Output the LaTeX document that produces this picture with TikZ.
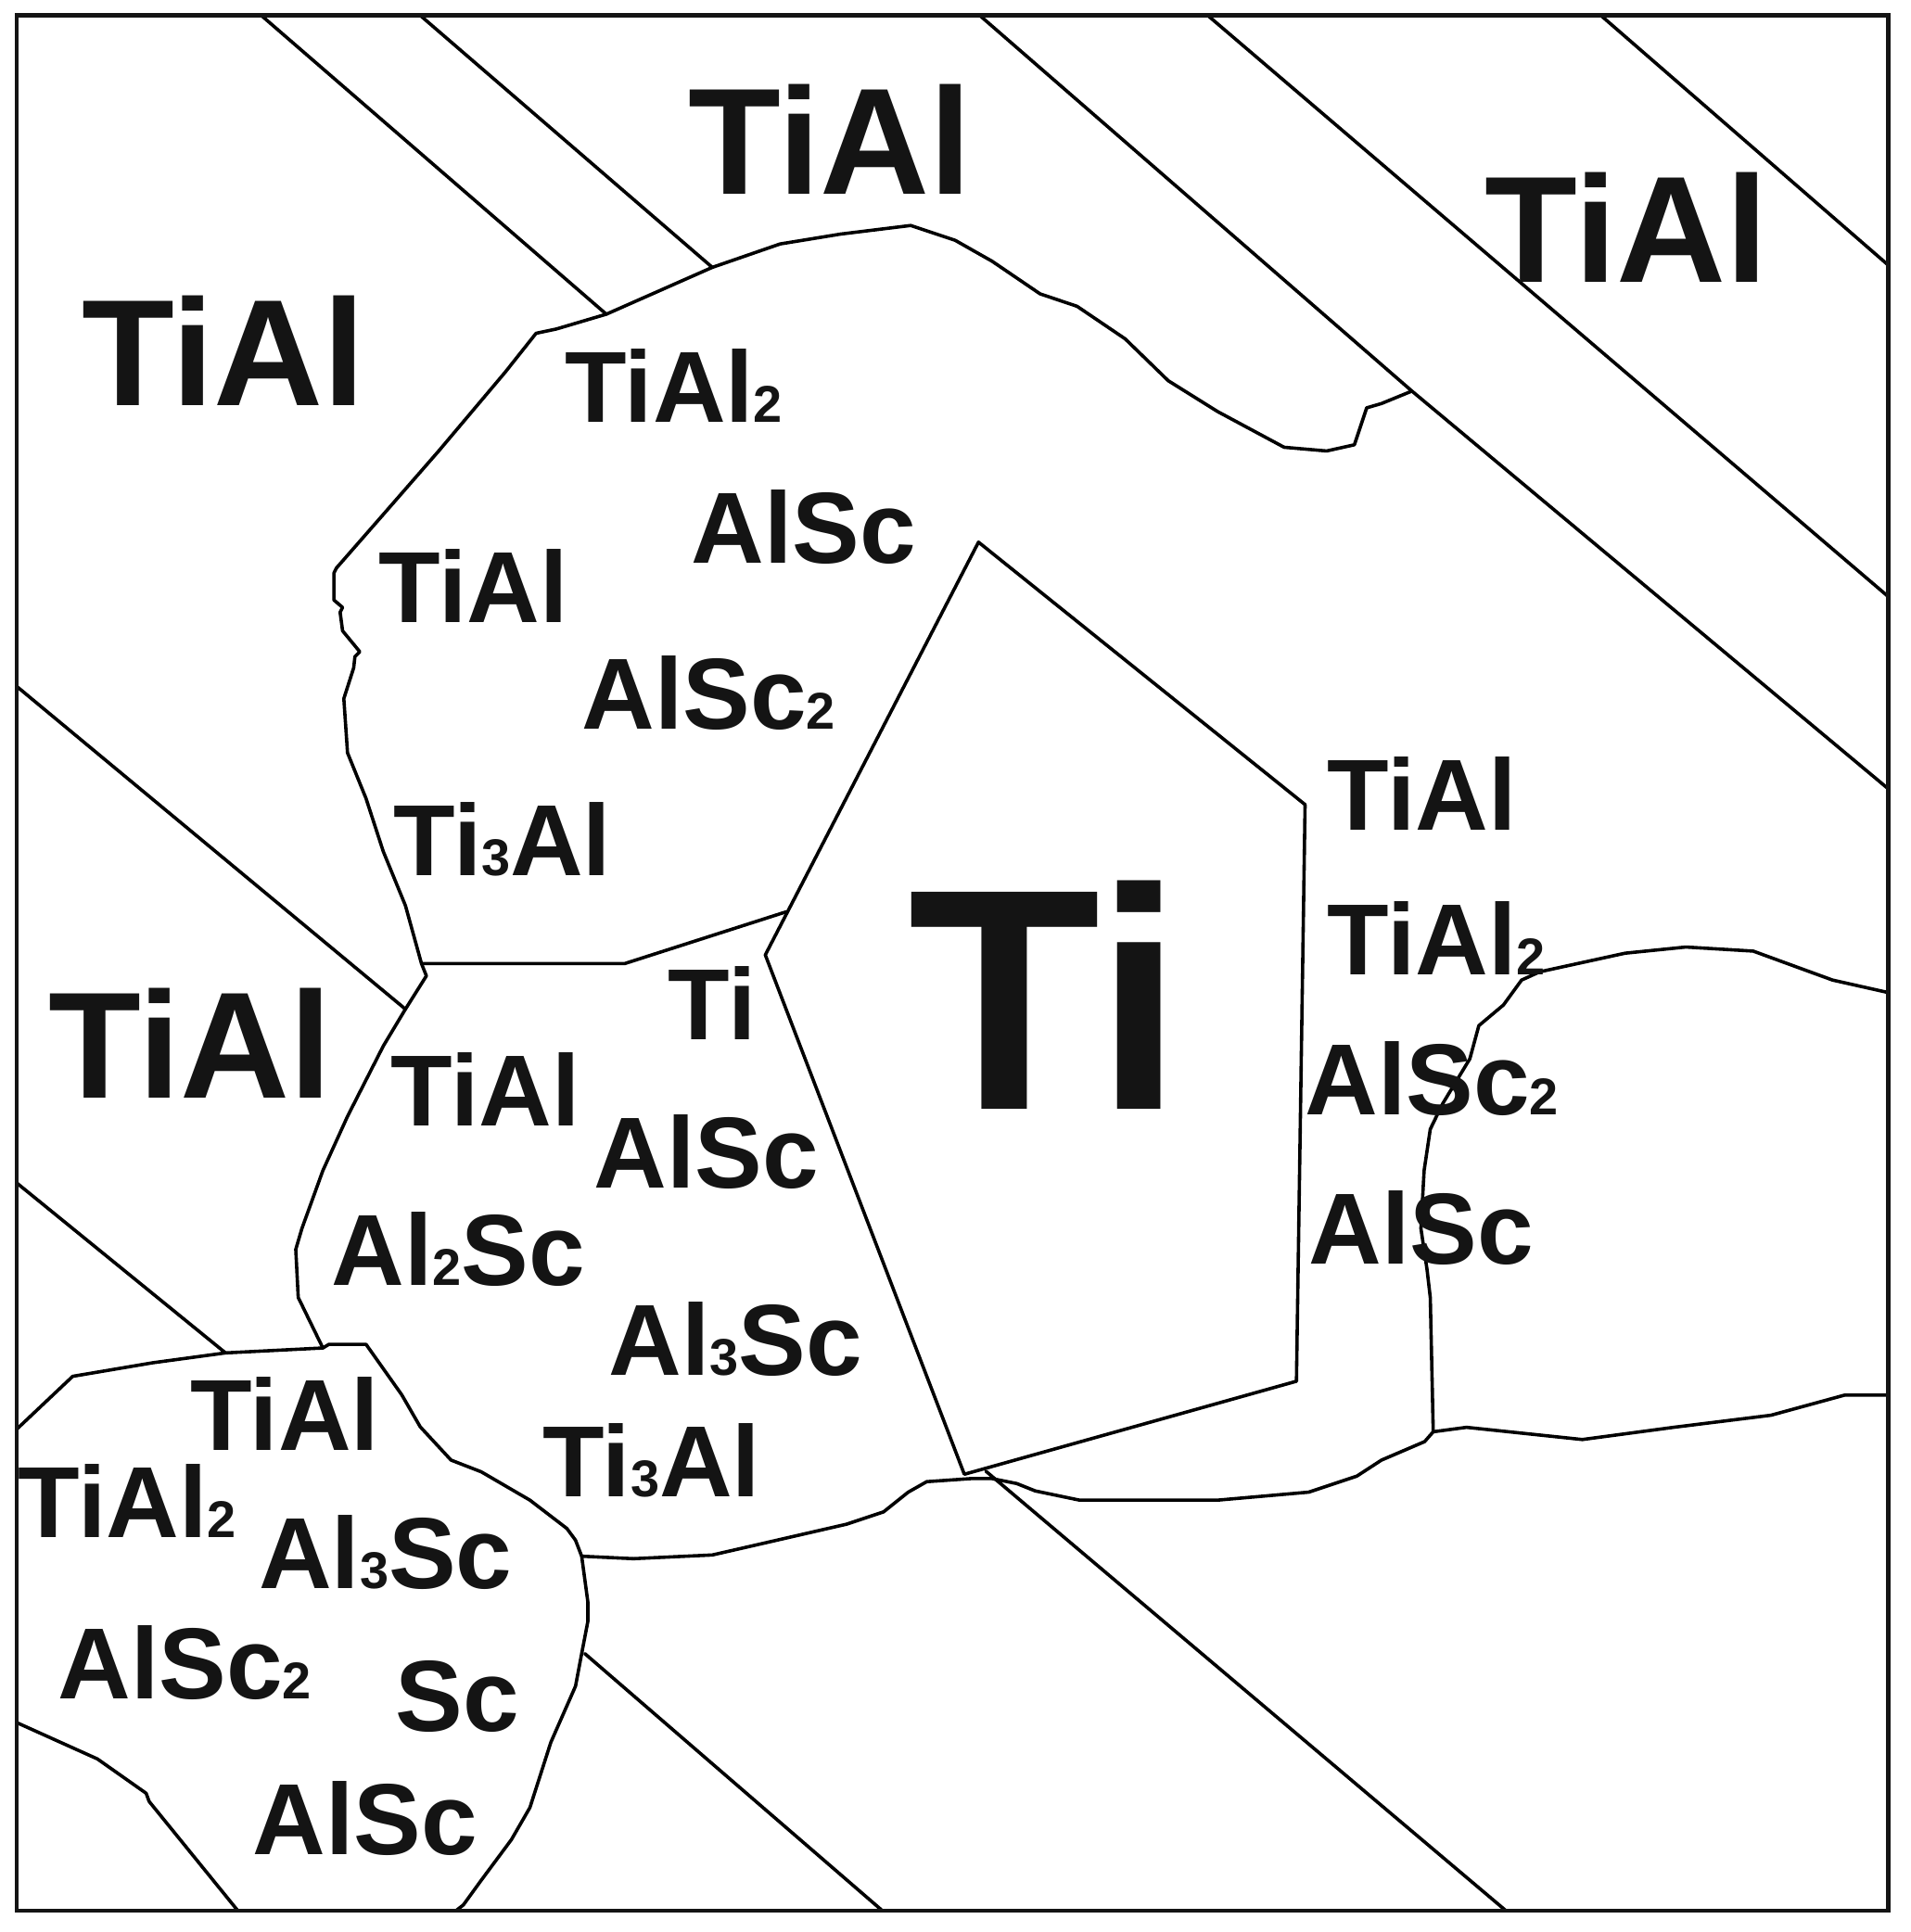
\documentclass[tikz,border=0pt]{standalone}
\usepackage{fontspec}
\setmainfont{Liberation Sans}
\newcommand\medfnt{\fontsize{82}{82}\selectfont\bfseries}
\newcommand\bigfnt{\fontsize{123}{123}\selectfont\bfseries}
\newcommand\hugefnt{\fontsize{256}{256}\selectfont\bfseries}
\newcommand\subd[1]{{\fontsize{42}{42}\selectfont #1}}
\definecolor{ink}{RGB}{20,20,20}
\tikzset{
  gb/.style={line width=2.7pt, line join=round, line cap=round, draw=black},
  frame/.style={line width=3.6pt, draw=ink},
  lab/.style={anchor=base west, inner sep=0pt, outer sep=0pt, text=ink, font=\medfnt},
  biglab/.style={lab, font=\bigfnt},
  hugelab/.style={lab, font=\hugefnt},
}
\begin{document}
\begin{tikzpicture}[x=1pt, y=-1pt]
\useasboundingbox (0,0) rectangle (1550,1568);
\fill[white] (0,0) rectangle (1550,1568);
% key junctions
\coordinate (jA) at (342,782);
\coordinate (jB) at (262,1094);
\coordinate (jC) at (472,1263);
\coordinate (jD) at (1163,1162);
\coordinate (jE) at (1145.7,317.4);
\coordinate (jF) at (638,740);
% diagonal twin boundaries
\draw[gb] (212,12.5) -- (492,255);
\draw[gb] (341,12.5) -- (578,217);
\draw[gb] (795,12.5) -- (jE) -- (1532,640);
\draw[gb] (980,12.5) -- (1532,484);
\draw[gb] (1299,12.5) -- (1532,215);
\draw[gb] (13.5,557) -- (329,819);
\draw[gb] (13.5,960) -- (183,1098);
\draw[gb] (474.5,1342) -- (716,1550.7);
\draw[gb] (800,1194) -- (1222,1550.7);
\draw[gb] (13.5,1398) -- (79,1427.5) -- (118.6,1455.4) -- (121,1462) -- (193,1550.7);
% upper grain
\draw[gb] (jF) -- (507,782) -- (jA) -- (329,735) -- (311,691) -- (297,648) -- (282,611)
  -- (279,567) -- (287,542) -- (288,533) -- (292,529) -- (278,512) -- (276,497) -- (278,493)
  -- (271,487) -- (271,465) -- (273,461) -- (308,421) -- (356,366) -- (410,302) -- (435,270.5)
  -- (451.5,267) -- (492,255) -- (578,217) -- (633,198) -- (682,190) -- (739,183) -- (775,195)
  -- (805,212) -- (844,238.5) -- (874,248.6) -- (913,275) -- (948,309) -- (988,334)
  -- (1042,363) -- (1076.5,366) -- (1099,361) -- (1109,331) -- (1121,327.5) -- (jE);
% middle grain left side
\draw[gb] (jA) -- (346,792) -- (329,819) -- (311,849) -- (282,906) -- (262,950) -- (245,997)
  -- (240,1014) -- (242,1053) -- (jB);
% bottom-left grain
\draw[gb] (13.5,1160) -- (59,1117) -- (124,1106) -- (183,1098) -- (jB) -- (267,1091) -- (297,1091)
  -- (326,1132) -- (341,1158) -- (366,1185) -- (390.5,1194.5) -- (430,1217.5) -- (460,1240.5)
  -- (467,1250) -- (jC) -- (477,1300) -- (477,1316) -- (472,1342) -- (467,1368.5) -- (447,1414)
  -- (430,1467) -- (415,1493) -- (390.5,1526) -- (376,1546) -- (370,1550.7);
% lower boundary
\draw[gb] (jC) -- (514,1265) -- (578,1262) -- (613,1254) -- (687,1237) -- (717,1227) -- (737,1211)
  -- (752,1202.5) -- (788,1200) -- (805,1200) -- (825,1204) -- (840,1210) -- (876,1217.5)
  -- (988,1217.5) -- (1062,1211) -- (1101,1198) -- (1121,1185) -- (1156,1170) -- (jD)
  -- (1190,1158.4) -- (1284,1168.3) -- (1358,1158.4) -- (1437,1148.6) -- (1497,1132.2) -- (1532,1132.2);
% right grain
\draw[gb] (jD) -- (1160.6,1053) -- (1158,1030.6) -- (1153,997) -- (1155.6,950) -- (1160.6,916.4)
  -- (1170.5,896) -- (1192.7,859.3) -- (1200,832.4) -- (1220,815.6) -- (1234.7,795.4)
  -- (1249.5,788.7) -- (1318.7,773.6) -- (1368,768.6) -- (1422.6,771.9) -- (1487,795.4) -- (1532,805.5);
% Ti grain
\draw[gb] (794,440) -- (1059,653) -- (1052,1121) -- (782.5,1196.5) -- (621,775) -- cycle;
% frame
\draw[frame] (13.5,12.5) rectangle (1532.5,1550.7);
% labels
\node[biglab] (t1) at (558.4,158) {TiAl};
\node[biglab] (t2) at (1205,229) {TiAl};
\node[biglab] (t3) at (66.4,329) {TiAl};
\node[biglab] (t4) at (39.4,891) {TiAl};
\node[hugelab] (t5) at (737,900.4) {Ti};
\node[lab] (m1) at (458.3,342.5) {TiAl\subd{2}};
\node[lab] (m2) at (561,457) {AlSc};
\node[lab] (m3) at (307.3,505) {TiAl};
\node[lab] (m4) at (472,592) {AlSc\subd{2}};
\node[lab] (m5) at (319.3,711) {Ti\subd{3}Al};
\node[lab] (m6) at (542.3,844) {Ti};
\node[lab] (m7) at (317.3,914) {TiAl};
\node[lab] (m8) at (482,964) {AlSc};
\node[lab] (m9) at (269,1043) {Al\subd{2}Sc};
\node[lab] (m10) at (494,1116) {Al\subd{3}Sc};
\node[lab] (m11) at (440.3,1215) {Ti\subd{3}Al};
\node[lab] (m12) at (154.3,1177) {TiAl};
\node[lab] (m13) at (14.6,1247.6) {TiAl\subd{2}};
\node[lab] (m14) at (210,1289) {Al\subd{3}Sc};
\node[lab] (m15) at (47,1379) {AlSc\subd{2}};
\node[lab] (m16) at (321,1405) {Sc};
\node[lab] (m17) at (205,1505) {AlSc};
\node[lab] (m18) at (1077.3,674) {TiAl};
\node[lab] (m19) at (1077.3,791) {TiAl\subd{2}};
\node[lab] (m20) at (1059,905) {AlSc\subd{2}};
\node[lab] (m21) at (1062,1026) {AlSc};
\end{tikzpicture}
\end{document}
